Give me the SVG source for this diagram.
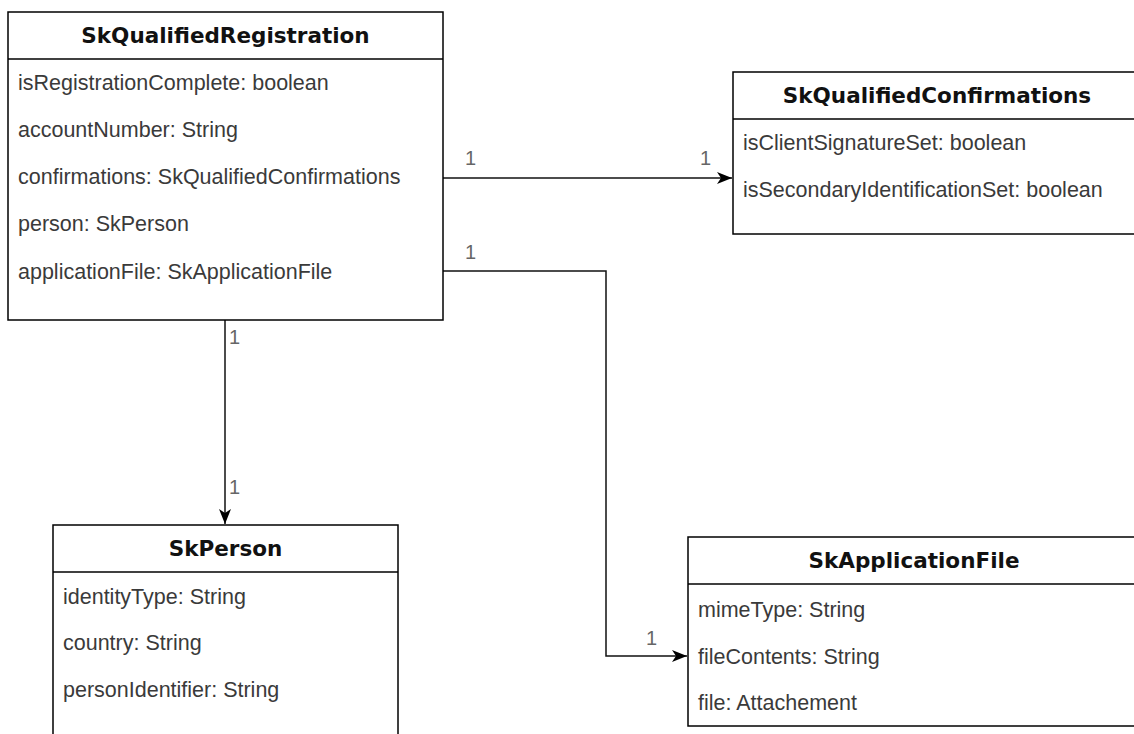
<svg xmlns="http://www.w3.org/2000/svg" width="1134" height="734" viewBox="0 0 1134 734">
  <style>
    .box { fill: #ffffff; stroke: #000000; stroke-width: 1.5; }
    .sep { stroke: #000000; stroke-width: 1.5; }
    .title { font-family: "DejaVu Sans", Verdana, sans-serif; font-weight: bold; font-size: 21.5px; fill: #111111; text-anchor: middle; }
    .attr { font-family: "Liberation Sans", Arial, sans-serif; font-size: 21.5px; fill: #3a3a3a; }
    .edge { fill: none; stroke: #111111; stroke-width: 1.5; }
    .mult { font-family: "Liberation Sans", Arial, sans-serif; font-size: 20px; fill: #666666; }
  </style>
  <defs>
    <marker id="arrow" viewBox="0 0 15 12" refX="15" refY="6" markerWidth="15" markerHeight="12" markerUnits="userSpaceOnUse" orient="auto">
      <path d="M0,0 L15,6 L0,12 L4,6 z" fill="#000000"/>
    </marker>
  </defs>
  <rect width="1134" height="734" fill="#ffffff"/>

  <g id="connectors">
    <g id="e-confirmations">
      <path class="edge" d="M443,178 L732,178" marker-end="url(#arrow)"/>
      <text class="mult" x="465" y="165">1</text>
      <text class="mult" x="700" y="165">1</text>
    </g>
    <g id="e-applicationFile">
      <path class="edge" d="M443,271 L606,271 L606,656 L687,656" marker-end="url(#arrow)"/>
      <text class="mult" x="465" y="259">1</text>
      <text class="mult" x="646" y="645">1</text>
    </g>
    <g id="e-person">
      <path class="edge" d="M225,320 L225,524" marker-end="url(#arrow)"/>
      <text class="mult" x="229" y="344">1</text>
      <text class="mult" x="229" y="494">1</text>
    </g>
  </g>

  <g id="SkQualifiedRegistration">
    <rect class="box" x="8" y="12" width="435" height="308"/>
    <line class="sep" x1="8" y1="59" x2="443" y2="59"/>
    <text class="title" x="225.5" y="43">SkQualifiedRegistration</text>
    <text class="attr" x="18" y="90">isRegistrationComplete: boolean</text>
    <text class="attr" x="18" y="137">accountNumber: String</text>
    <text class="attr" x="18" y="184">confirmations: SkQualifiedConfirmations</text>
    <text class="attr" x="18" y="231">person: SkPerson</text>
    <text class="attr" x="18" y="279">applicationFile: SkApplicationFile</text>
  </g>

  <g id="SkQualifiedConfirmations">
    <rect class="box" x="733" y="72" width="408" height="162"/>
    <line class="sep" x1="733" y1="119" x2="1141" y2="119"/>
    <text class="title" x="937" y="103">SkQualifiedConfirmations</text>
    <text class="attr" x="743" y="150">isClientSignatureSet: boolean</text>
    <text class="attr" x="743" y="197">isSecondaryIdentificationSet: boolean</text>
  </g>

  <g id="SkPerson">
    <rect class="box" x="53" y="525" width="345" height="230"/>
    <line class="sep" x1="53" y1="572" x2="398" y2="572"/>
    <text class="title" x="225.5" y="556">SkPerson</text>
    <text class="attr" x="63" y="604">identityType: String</text>
    <text class="attr" x="63" y="650">country: String</text>
    <text class="attr" x="63" y="697">personIdentifier: String</text>
  </g>

  <g id="SkApplicationFile">
    <rect class="box" x="688" y="537" width="452" height="189"/>
    <line class="sep" x1="688" y1="584" x2="1140" y2="584"/>
    <text class="title" x="914" y="568">SkApplicationFile</text>
    <text class="attr" x="698" y="617">mimeType: String</text>
    <text class="attr" x="698" y="664">fileContents: String</text>
    <text class="attr" x="698" y="710">file: Attachement</text>
  </g>
</svg>
